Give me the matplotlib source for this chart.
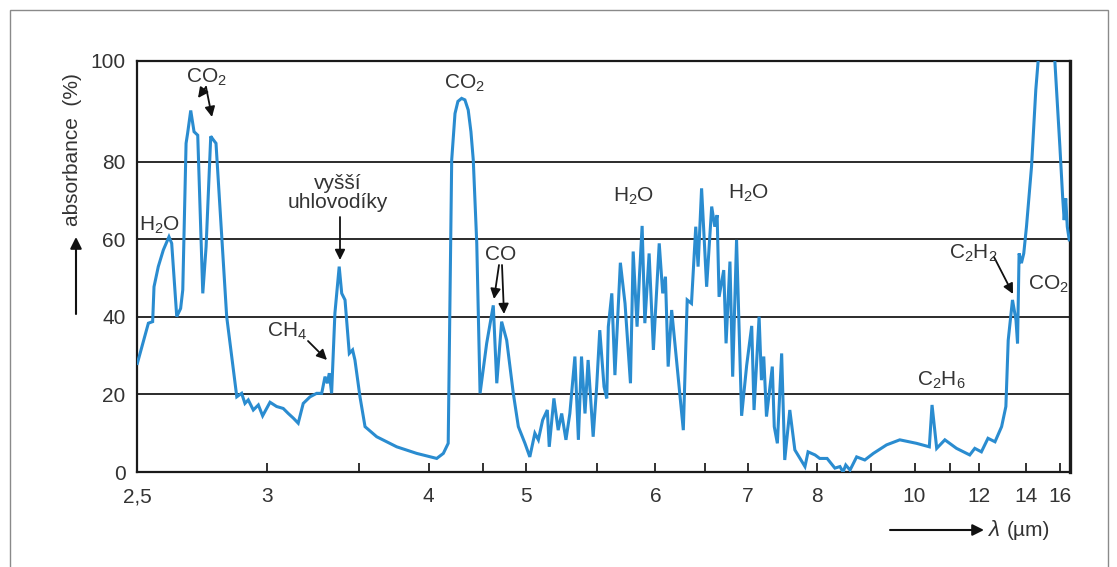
import numpy as np
import matplotlib
matplotlib.use("Agg")
import matplotlib.pyplot as plt
from matplotlib.patches import Rectangle

# ---------------- data ----------------
wavenumber_cm1 = [
    4000, 3943, 3921, 3914, 3892, 3866, 3837, 3823, 3797, 3777, 3766, 3749, 3741,
    3725, 3708, 3689, 3663, 3646, 3622, 3609, 3595, 3540, 3488, 3463, 3446, 3429,
    3403, 3377, 3355, 3317, 3283, 3249, 3223, 3197, 3172, 3146, 3111, 3077, 3051,
    3034, 3022, 3012, 3000, 2983, 2961, 2948, 2931, 2909, 2892, 2880, 2854, 2828,
    2768, 2665, 2562, 2459, 2425, 2400, 2382, 2365, 2350, 2331, 2314, 2297, 2283,
    2271, 2253, 2236, 2202, 2168, 2150, 2125, 2099, 2065, 2039, 2005, 1990, 1977,
    1968, 1957, 1945, 1940, 1928, 1917, 1908, 1897, 1887, 1874, 1865, 1857, 1848,
    1840, 1827, 1818, 1810, 1799, 1792, 1788, 1779, 1771, 1757, 1745, 1731, 1724,
    1714, 1708, 1701, 1694, 1683, 1672, 1657, 1648, 1641, 1634, 1625, 1595, 1585,
    1574, 1563, 1557, 1548, 1535, 1522, 1514, 1508, 1503, 1491, 1485, 1475, 1468,
    1458, 1445, 1432, 1419, 1413, 1400, 1394, 1388, 1381, 1366, 1361, 1353, 1342,
    1334, 1321, 1308, 1282, 1274, 1256, 1244, 1225, 1205, 1192, 1184, 1177, 1166,
    1149, 1128, 1106, 1072, 1038, 995, 962, 955, 943, 922, 892, 858, 845, 828,
    811, 793, 776, 765, 759, 748, 739, 735, 731, 725, 719, 712, 699, 688, 682,
    662, 639, 626, 619, 615, 611, 607, 602,
]
absorbance_pct = [
    28, 38.4, 38.8, 47.8, 53, 57.3, 60.7, 59, 40.1, 42.2, 47, 83.7, 85.7,
    90.2, 86, 85.3, 46.1, 58.1, 85.1, 84.4, 83.7, 40.1, 19.4, 20.3, 17.7, 18.6,
    16, 17.3, 14.5, 18, 16.9, 16.4, 15.1, 13.9, 12.6, 17.7, 19.4, 20.3, 20.3,
    24.6, 22.9, 25.5, 20.3, 41, 53, 46.1, 44.4, 30.6, 31.5, 28.9, 19.4, 11.7,
    9.1, 6.5, 4.8, 3.5, 4.8, 7.4, 80.4, 89.6, 92, 92.6, 92.3, 90.3, 86,
    80.4, 59, 20.3, 33.2, 43, 22.9, 38.8, 34, 20.3, 11.7, 7.4, 3.9, 10,
    8.3, 13.4, 16, 6.5, 19, 10.8, 15.1, 8.3, 15.1, 29.8, 8.3, 29.8, 15.1,
    28.9, 9.1, 22, 36.6, 22, 19, 37.5, 46.1, 25, 54, 43.5, 22.9, 56.9,
    37.5, 50.4, 63.5, 38.4, 56.4, 31.5, 59, 46.1, 50.4, 27.2, 41.8, 10.8, 44.4,
    43.5, 63.3, 53, 73.2, 47.8, 68.5, 63.3, 66.3, 45.2, 52.1, 33.2, 54.3, 24.6,
    59.9, 14.5, 27.5, 37.7, 16, 40.1, 23.7, 29.8, 14.3, 27.2, 11.7, 7.4, 30.6,
    3.1, 16, 5.7, 1.4, 5.2, 4.4, 3.5, 3.5, 1, 1.4, 0, 1.8, 0.5,
    3.9, 3.1, 4.8, 7, 8.3, 7.4, 6.5, 17.3, 6.1, 8.3, 6.1, 4.4, 6.1, 5.2,
    8.7, 7.8, 11.7, 16.9, 34, 44.4, 39.2, 33.2, 56.4, 53.9, 56.4, 63.3, 78.8, 94.3, 100,
    112, 100, 83, 71.1, 65, 70.6, 63.3, 59.9,
]
wavelength_um = 1e4 / np.array(wavenumber_cm1, float)

xtick_values = [2.5, 3, 3.5, 4, 4.5, 5, 5.5, 6, 6.5, 7, 8, 9, 10, 11, 12, 14, 16]
xtick_labels = ["2,5", "3", "", "4", "", "5", "", "6", "", "7", "8", "", "10", "", "12", "14", "16"]
ytick_values = [0, 20, 40, 60, 80, 100]
ytick_labels = ["0", "20", "40", "60", "80", "100"]

# ---------------- style ----------------
plt.rcParams['font.family'] = ['Liberation Sans', 'DejaVu Sans']
plt.rcParams['mathtext.fontset'] = 'custom'
plt.rcParams['mathtext.rm'] = 'Liberation Sans'
plt.rcParams['mathtext.it'] = 'Liberation Sans:italic'
plt.rcParams['mathtext.bf'] = 'Liberation Sans:bold'

W, H = 1117, 567
LINE = '#2a8cd0'
TXT = '#333333'
FS = 15

fig = plt.figure(figsize=(W / 100, H / 100), dpi=100)
ax = fig.add_axes([137.3 / W, 1 - 472 / H, (1070 - 137.3) / W, (472 - 61) / H])


def fp(x, y):
    return (x / W, 1 - y / H)


# wavenumber-linear axis with the usual 2x expansion below 2000 cm-1
def xfwd(lam):
    lam = np.asarray(lam, float)
    with np.errstate(divide='ignore', invalid='ignore'):
        u = 1e4 / lam
    return np.where(u >= 2000, 4000 - u, 6000 - 2 * u)


def xinv(f):
    f = np.asarray(f, float)
    u = np.where(f <= 2000, 4000 - f, (6000 - f) / 2)
    with np.errstate(divide='ignore', invalid='ignore'):
        return 1e4 / u


K = 1.303  # the 80-100 band of the original is drawn taller


def yfwd(y):
    y = np.asarray(y, float)
    return np.where(y <= 80, y, 80 + (y - 80) * K)


def yinv(z):
    z = np.asarray(z, float)
    return np.where(z <= 80, z, 80 + (z - 80) / K)


ax.set_xscale('function', functions=(xfwd, xinv))
ax.set_yscale('function', functions=(yfwd, yinv))

ax.plot(wavelength_um, absorbance_pct, color=LINE, lw=2.2, solid_joinstyle='miter', zorder=3)

ax.set_xlim(2.5, 1e4 / 600)
ax.set_ylim(0, 100)

ax.set_xticks(xtick_values)
ax.set_xticklabels(xtick_labels)
ax.xaxis.set_minor_locator(matplotlib.ticker.NullLocator())
ax.set_yticks(ytick_values)
ax.set_yticklabels(ytick_labels)
ax.yaxis.set_minor_locator(matplotlib.ticker.NullLocator())

ax.tick_params(axis='x', direction='in', length=6.5, width=1.3, color='#222',
               labelsize=FS, labelcolor=TXT, pad=11)
ax.tick_params(axis='y', length=0, labelsize=FS, labelcolor=TXT, pad=8.5)

for v in [20, 40, 60, 80]:
    ax.axhline(v, color='#1a1a1a', lw=1.3, zorder=2)

for s in ax.spines.values():
    s.set_linewidth(1.6)
    s.set_color('#1a1a1a')
ax.spines['right'].set_linewidth(2.4)

# ---------------- annotations ----------------
akw = dict(arrowstyle='-|>', color='#111111', lw=1.3, mutation_scale=15,
           shrinkA=0, shrinkB=0)


def label(x, y, s, **kw):
    fig.text(*fp(x, y), s, ha='center', va='center', fontsize=FS, color=TXT, **kw)


def arrow(x0, y0, x1, y1):
    ax.annotate('', xy=fp(x1, y1), xycoords='figure fraction',
                xytext=fp(x0, y0), textcoords='figure fraction',
                arrowprops=akw, annotation_clip=False)


label(206, 77, 'CO$_2$')
arrow(206, 87, 198, 98)
arrow(206, 87, 212, 117)
label(160, 225, 'H$_2$O')
label(338, 193, 'vyšší\nuhlovodíky', linespacing=1.05, multialignment='center')
arrow(340, 217, 340, 260)
label(287, 331, 'CH$_4$')
arrow(308, 341, 327, 360)
label(464, 83, 'CO$_2$')
label(501, 255, 'CO')
arrow(499, 265, 494, 299)
arrow(502, 265, 504, 314)
label(634, 196, 'H$_2$O')
label(749, 193, 'H$_2$O')
label(941, 380, 'C$_2$H$_6$')
label(973, 253, 'C$_2$H$_2$')
arrow(994, 257, 1013, 294)
label(1048, 284, 'CO$_2$')

# axis titles with arrows
fig.text(*fp(72, 150), 'absorbance  (%)', rotation=90, ha='center', va='center',
         fontsize=FS, color=TXT)
ax.annotate('', xy=fp(76, 237), xycoords='figure fraction',
            xytext=fp(76, 314), textcoords='figure fraction',
            arrowprops=dict(arrowstyle='-|>', color='#111111', lw=1.5,
                            mutation_scale=17, shrinkA=0, shrinkB=0),
            annotation_clip=False)
ax.annotate('', xy=fp(984, 530), xycoords='figure fraction',
            xytext=fp(890, 530), textcoords='figure fraction',
            arrowprops=dict(arrowstyle='-|>', color='#111111', lw=1.5,
                            mutation_scale=17, shrinkA=0, shrinkB=0),
            annotation_clip=False)
fig.text(*fp(988, 530), 'λ', ha='left', va='center', fontsize=FS + 1, color=TXT,
         fontstyle='italic')
fig.text(*fp(1007, 531), '(µm)', ha='left', va='center', fontsize=FS, color=TXT)

# outer frame of the figure
fig.patches.append(Rectangle((10 / W, -0.05), (1108 - 10) / W, 1.05 - 10 / H,
                             transform=fig.transFigure, fill=False,
                             edgecolor='#8a8a8a', lw=1.0))

fig.savefig('out.png', dpi=100)
